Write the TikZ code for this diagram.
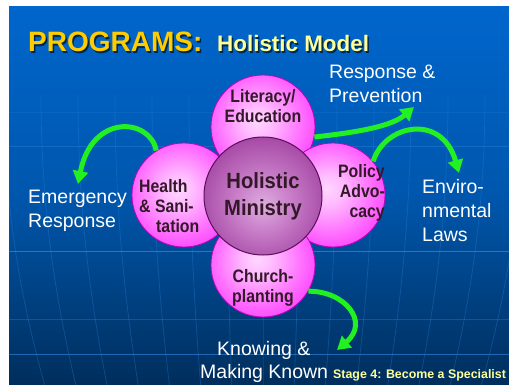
\documentclass[tikz,border=0pt]{standalone}
\usepackage{fontspec}
\setmainfont{Liberation Sans}
\newfontfamily\narrowsans[FakeStretch=0.88]{Liberation Sans}
\newfontfamily\coresans[FakeStretch=0.92]{Liberation Sans}
\usetikzlibrary{arrows.meta}
\definecolor{bgtop}{HTML}{0066CC}
\definecolor{bgbot}{HTML}{002E5C}
\definecolor{gridc}{HTML}{2F85E0}
\definecolor{arrgreen}{HTML}{22F022}
\definecolor{ptxt}{HTML}{331828}
\definecolor{gold}{HTML}{FFCC00}
\definecolor{paleyel}{HTML}{FFFF99}
\definecolor{petaledge}{HTML}{C000C0}
\definecolor{coreedge}{HTML}{5A1058}
\pgfdeclareradialshading{petalshade}{\pgfpoint{-3bp}{3bp}}{rgb(0bp)=(1,0.84,1);rgb(7bp)=(1,0.74,1);rgb(20bp)=(1,0.45,1);rgb(36bp)=(0.98,0.12,0.98);rgb(50bp)=(0.92,0,0.92);rgb(60bp)=(0.88,0,0.88)}
\pgfdeclareradialshading{coreshade}{\pgfpoint{0bp}{-4bp}}{rgb(0bp)=(0.87,0.68,0.87);rgb(10bp)=(0.8,0.52,0.8);rgb(30bp)=(0.63,0.25,0.63);rgb(45bp)=(0.5,0.1,0.5);rgb(52bp)=(0.42,0.06,0.42);rgb(60bp)=(0.4,0.05,0.4)}
\begin{document}
\begin{tikzpicture}[x=1pt,y=-1pt,
  petal/.style={circle,minimum size=104pt,inner sep=0pt,shading=petalshade,draw=petaledge,line width=0.8pt},
  core/.style={circle,minimum size=118pt,inner sep=0pt,shading=coreshade,draw=coreedge,line width=1pt},
  ptext/.style={text=ptxt,font=\narrowsans\bfseries\fontsize{18}{20}\selectfont,inner sep=0pt},
  ctext/.style={text=ptxt,font=\coresans\bfseries\fontsize{22}{27}\selectfont,inner sep=0pt,align=center},
  wtext/.style={text=white,font=\fontsize{19.5}{24}\selectfont,inner sep=0pt,align=left,anchor=base west},
  arr/.style={draw=arrgreen,line width=5pt,-{Triangle[width=15pt,length=13pt]}},
  gridl/.style={draw=gridc,line width=0.8pt,opacity=0.45}
]
\useasboundingbox (0,0) rectangle (509,385);
\fill[white] (0,0) rectangle (509,385);
\shade[top color=bgtop,bottom color=bgbot,middle color=bgtop!72!bgbot] (9,7) rectangle (509,385);
% background globe lines
\begin{scope}
\clip (9,7) rectangle (509,385);
\foreach \yy/\op in {112/0.2,146/0.4,251/0.75,319/0.35,354/0.65}
  \draw[gridl,opacity=\op] (9,\yy) -- (509,\yy);
\foreach \k in {-7,...,7}
  \draw[gridl,opacity=0.3] ({263+\k*37},95) .. controls ({263+\k*37},200) and ({263+\k*35},290) .. ({263+\k*31},390);
\end{scope}
% title
\node[anchor=base west,inner sep=0pt,text=black,opacity=0.6,font=\bfseries\fontsize{28}{30}\selectfont] at (29.5,53.5) {PROGRAMS:};
\node (ttl) [anchor=base west,inner sep=0pt,text=gold,font=\bfseries\fontsize{28}{30}\selectfont] at (28,52) {PROGRAMS:};
\node[anchor=base west,inner sep=0pt,text=black,opacity=0.6,font=\bfseries\fontsize{22.4}{26}\selectfont] at (218.5,53.5) {Holistic Model};
\node (sub) [anchor=base west,inner sep=0pt,text=paleyel,font=\bfseries\fontsize{22.4}{26}\selectfont] at (217,52) {Holistic Model};
% petals
\node[petal] (lit) at (263,127) {};
\node[petal] (hea) at (184,195) {};
\node[petal] (pol) at (333,195) {};
\node[petal] (chu) at (263,265) {};
\node[core] (hol) at (263,196) {};
% petal texts (base anchor = last line baseline)
\node[ptext,align=center,anchor=base] (tlit) at (263,123) {Literacy/\\Education};
\node[ptext,align=left,anchor=base west] (thea) at (139,233) {Health\\\& Sani-\\\hspace{17pt}tation};
\node[ptext,align=right,anchor=base east] (tpol) at (385,218) {Policy\\Advo-\\cacy};
\node[ptext,align=center,anchor=base] (tchu) at (263,302) {Church-\\planting};
\node[ctext,anchor=base] (thol) at (263,215) {Holistic\\Ministry};
% white labels
\node[wtext] (resp) at (329,103) {Response \&\\Prevention};
\node[wtext] (emer) at (28,227) {Emergency\\Response};
\node[wtext] (env) at (422,241) {Enviro-\\nmental\\Laws};
\node[wtext] (know1) at (217,355) {Knowing \&};
\node[wtext] (know2) at (200,378) {Making Known};
\node[anchor=base west,inner sep=0pt,text=paleyel,font=\bfseries\fontsize{12.4}{14}\selectfont] (stage) at (333,378) {Stage 4: Become a Specialist};
% arrows
\coordinate (tipE) at (78,184);
\coordinate (tipR) at (414,107);
\coordinate (tipV) at (459,173);
\coordinate (tipK) at (337,350);
\draw[arr] (hea.122) .. controls (150,118) and (92,113) .. (tipE);
\draw[arr] (lit.-11) .. controls (360,132) and (392,126) .. (tipR);
\draw[arr] (pol.40) .. controls (385,124) and (442,113) .. (tipV);
\draw[arr] (chu.-30) .. controls (345,291) and (370,322) .. (tipK);
\end{tikzpicture}
\end{document}
